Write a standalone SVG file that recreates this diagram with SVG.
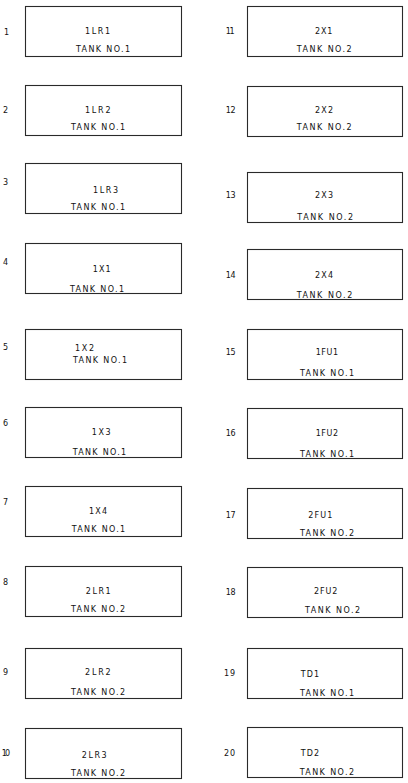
<svg xmlns="http://www.w3.org/2000/svg" width="408" height="783" viewBox="0 0 408 783">
<style>
rect.b{fill:#fff;stroke:#2a2a2a;stroke-width:1.1}
text{font-family:"DejaVu Sans","Liberation Sans",sans-serif;font-size:8px;fill:#111}
</style>
<rect x="0" y="0" width="408" height="783" fill="#fff"/>
<g id="n1"><text x="4" y="35">1</text><rect class="b" x="25.5" y="6.5" width="156" height="50"/><text x="85" y="34.3" textLength="25" lengthAdjust="spacing">1LR1</text><text x="76" y="52.3" textLength="54" lengthAdjust="spacing">TANK NO.1</text></g>
<g id="n2"><text x="3" y="112.5">2</text><rect class="b" x="25.5" y="85.5" width="156" height="50"/><text x="85" y="113.3" textLength="25.5" lengthAdjust="spacing">1LR2</text><text x="71" y="130" textLength="54" lengthAdjust="spacing">TANK NO.1</text></g>
<g id="n3"><text x="3" y="185">3</text><rect class="b" x="25.5" y="163.5" width="156" height="50"/><text x="93" y="192.7" textLength="25" lengthAdjust="spacing">1LR3</text><text x="71" y="210" textLength="54" lengthAdjust="spacing">TANK NO.1</text></g>
<g id="n4"><text x="3" y="265">4</text><rect class="b" x="25.5" y="243.5" width="156" height="50"/><text x="92.7" y="271.7" textLength="18" lengthAdjust="spacing">1X1</text><text x="70" y="291.7" textLength="54" lengthAdjust="spacing">TANK NO.1</text></g>
<g id="n5"><text x="3" y="350">5</text><rect class="b" x="25.5" y="329.5" width="156" height="50"/><text x="75" y="350.7" textLength="19" lengthAdjust="spacing">1X2</text><text x="73" y="363.3" textLength="54" lengthAdjust="spacing">TANK NO.1</text></g>
<g id="n6"><text x="3" y="426">6</text><rect class="b" x="25.5" y="407.5" width="156" height="50"/><text x="91.7" y="435" textLength="19" lengthAdjust="spacing">1X3</text><text x="72.7" y="455" textLength="53.5" lengthAdjust="spacing">TANK NO.1</text></g>
<g id="n7"><text x="3" y="505">7</text><rect class="b" x="25.5" y="486.5" width="156" height="50"/><text x="89" y="514" textLength="18" lengthAdjust="spacing">1X4</text><text x="71.7" y="531.7" textLength="53.5" lengthAdjust="spacing">TANK NO.1</text></g>
<g id="n8"><text x="3" y="585">8</text><rect class="b" x="25.5" y="566.5" width="156" height="50"/><text x="85.7" y="594" textLength="25" lengthAdjust="spacing">2LR1</text><text x="71" y="611.7" textLength="54" lengthAdjust="spacing">TANK NO.2</text></g>
<g id="n9"><text x="3" y="675">9</text><rect class="b" x="25.5" y="648.5" width="156" height="50"/><text x="85" y="675" textLength="25.7" lengthAdjust="spacing">2LR2</text><text x="71" y="695" textLength="54" lengthAdjust="spacing">TANK NO.2</text></g>
<g id="n10"><text x="1.7" y="756" textLength="8.5" lengthAdjust="spacing">10</text><rect class="b" x="25.5" y="728.5" width="156" height="50"/><text x="81.7" y="758.3" textLength="25" lengthAdjust="spacing">2LR3</text><text x="71" y="775.7" textLength="54" lengthAdjust="spacing">TANK NO.2</text></g>
<g id="n11"><text x="225.7" y="34.3" textLength="9" lengthAdjust="spacing">11</text><rect class="b" x="247.5" y="6.5" width="155" height="50"/><text x="315" y="34.3" textLength="17.3" lengthAdjust="spacing">2X1</text><text x="296.7" y="52.3" textLength="55" lengthAdjust="spacing">TANK NO.2</text></g>
<g id="n12"><text x="225.7" y="112.7" textLength="10" lengthAdjust="spacing">12</text><rect class="b" x="247.5" y="86.5" width="155" height="50"/><text x="315" y="113.3" textLength="18" lengthAdjust="spacing">2X2</text><text x="296.7" y="130" textLength="55" lengthAdjust="spacing">TANK NO.2</text></g>
<g id="n13"><text x="225.7" y="198.3" textLength="10" lengthAdjust="spacing">13</text><rect class="b" x="247.5" y="172.5" width="155" height="50"/><text x="315" y="198.3" textLength="18" lengthAdjust="spacing">2X3</text><text x="297.3" y="220" textLength="55.7" lengthAdjust="spacing">TANK NO.2</text></g>
<g id="n14"><text x="225.7" y="278.3" textLength="10" lengthAdjust="spacing">14</text><rect class="b" x="247.5" y="249.5" width="155" height="50"/><text x="315" y="278.3" textLength="18" lengthAdjust="spacing">2X4</text><text x="296.7" y="298.3" textLength="55.6" lengthAdjust="spacing">TANK NO.2</text></g>
<g id="n15"><text x="225.7" y="355" textLength="10" lengthAdjust="spacing">15</text><rect class="b" x="247.5" y="329.5" width="155" height="50"/><text x="315.7" y="355" textLength="22.3" lengthAdjust="spacing">1FU1</text><text x="300" y="375.7" textLength="54" lengthAdjust="spacing">TANK NO.1</text></g>
<g id="n16"><text x="225.7" y="436" textLength="10" lengthAdjust="spacing">16</text><rect class="b" x="247.5" y="408.5" width="155" height="50"/><text x="315.7" y="436" textLength="22.3" lengthAdjust="spacing">1FU2</text><text x="300" y="456.7" textLength="54" lengthAdjust="spacing">TANK NO.1</text></g>
<g id="n17"><text x="225.7" y="518" textLength="10" lengthAdjust="spacing">17</text><rect class="b" x="247.5" y="488.5" width="155" height="50"/><text x="308.3" y="518.3" textLength="24" lengthAdjust="spacing">2FU1</text><text x="300" y="536" textLength="54" lengthAdjust="spacing">TANK NO.2</text></g>
<g id="n18"><text x="225.7" y="595" textLength="10" lengthAdjust="spacing">18</text><rect class="b" x="247.5" y="567.5" width="155" height="50"/><text x="314" y="594" textLength="23.3" lengthAdjust="spacing">2FU2</text><text x="305" y="612.7" textLength="55" lengthAdjust="spacing">TANK NO.2</text></g>
<g id="n19"><text x="224" y="676" textLength="11" lengthAdjust="spacing">19</text><rect class="b" x="247.5" y="648.5" width="155" height="50"/><text x="300.7" y="676.7" textLength="18.3" lengthAdjust="spacing">TD1</text><text x="300" y="696" textLength="54" lengthAdjust="spacing">TANK NO.1</text></g>
<g id="n20"><text x="224" y="756" textLength="11" lengthAdjust="spacing">20</text><rect class="b" x="247.5" y="727.5" width="155" height="50"/><text x="300.7" y="756" textLength="18.3" lengthAdjust="spacing">TD2</text><text x="299.7" y="775" textLength="54.3" lengthAdjust="spacing">TANK NO.2</text></g>
</svg>
